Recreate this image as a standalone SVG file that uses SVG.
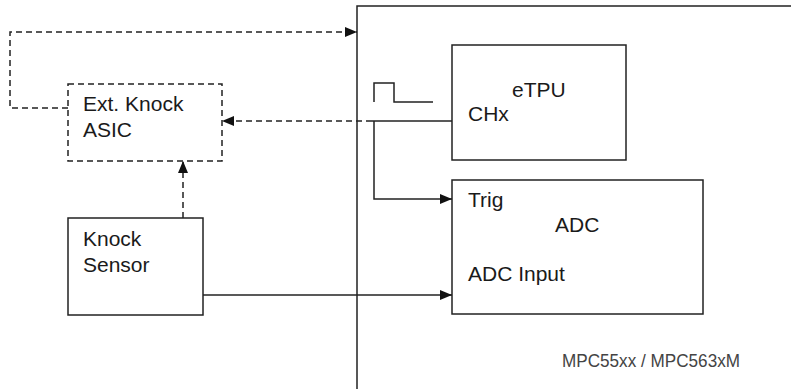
<svg xmlns="http://www.w3.org/2000/svg" width="791" height="389" viewBox="0 0 791 389">
<style>
.box{fill:#fff;stroke:#222;stroke-width:1.5}
.dbox{fill:#fff;stroke:#222;stroke-width:1.5;stroke-dasharray:6 4}
.ln{fill:none;stroke:#222;stroke-width:1.5}
.dl{fill:none;stroke:#222;stroke-width:1.5;stroke-dasharray:6 4}
text{font-family:"Liberation Sans",Arial,sans-serif;font-size:21px;fill:#1a1a1a}
.small{font-size:19px;fill:#444}
</style>
<defs>
<marker id="ah" viewBox="0 0 12 10" refX="12" refY="5" markerWidth="12" markerHeight="10" markerUnits="userSpaceOnUse" orient="auto">
<path d="M0,0 L12,5 L0,10 Z" fill="#111"/>
</marker>
</defs>
<g id="mcu">
<rect class="box" x="357" y="6" width="600" height="500"/>
<text class="small" x="562" y="367" textLength="178" lengthAdjust="spacingAndGlyphs">MPC55xx / MPC563xM</text>
</g>
<g id="asic">
<rect class="dbox" x="68" y="84" width="154" height="77"/>
<text x="83" y="111">Ext. Knock</text>
<text x="83" y="137">ASIC</text>
</g>
<g id="sensor">
<rect class="box" x="68" y="218" width="135" height="97"/>
<text x="83" y="246">Knock</text>
<text x="83" y="272">Sensor</text>
</g>
<g id="etpu">
<rect class="box" x="452" y="45" width="174" height="115"/>
<text x="512" y="97">eTPU</text>
<text x="468" y="121">CHx</text>
</g>
<g id="adc">
<rect class="box" x="452" y="180" width="251" height="134"/>
<text x="468" y="207">Trig</text>
<text x="555" y="232">ADC</text>
<text x="468" y="281">ADC Input</text>
</g>
<g id="connectors">
<path class="dl" d="M68,108 H10 V32 H357" marker-end="url(#ah)"/>
<path class="ln" d="M452,121 H372"/>
<path class="dl" d="M372,121 H222" marker-end="url(#ah)"/>
<path class="dl" d="M183,218 V161" marker-end="url(#ah)"/>
<path class="ln" d="M374,121 V199 H452" marker-end="url(#ah)"/>
<path class="ln" d="M203,295 H452" marker-end="url(#ah)"/>
<path class="ln" d="M374,102 V83 H394 V102 H433"/>
</g>
</svg>
